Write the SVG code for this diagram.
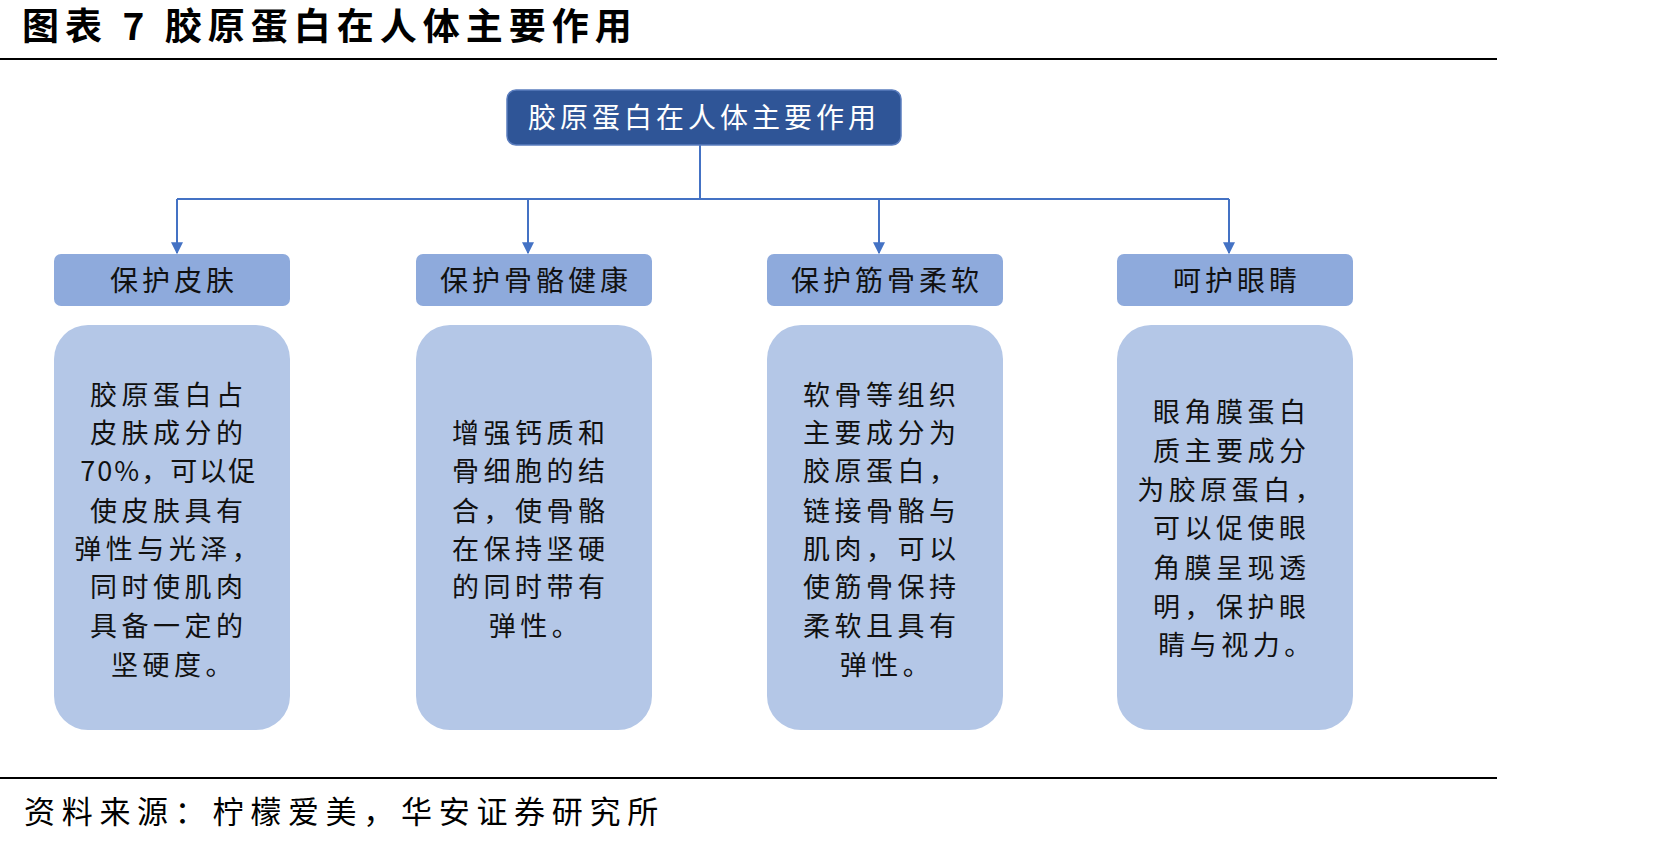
<svg xmlns="http://www.w3.org/2000/svg" width="1653" height="841" viewBox="0 0 1653 841">
<defs>
<style>
text{font-family:"Noto Sans CJK SC","Noto Sans",sans-serif;}
.title{font-size:37px;font-weight:bold;fill:#000;letter-spacing:6px;}
.src{font-size:31px;fill:#000;letter-spacing:6.7px;}
.rootbox{fill:#2F5597;stroke:#5B7DBE;stroke-width:1.5;}
.roottxt{font-size:28px;fill:#fff;letter-spacing:4px;text-anchor:middle;}
.hbox{fill:#8EAADC;}
.htxt{font-size:28px;fill:#111;letter-spacing:4px;text-anchor:middle;}
.bbox{fill:#B4C7E7;}
.btxt{font-size:27px;fill:#111;letter-spacing:4.5px;text-anchor:middle;}
.conn{stroke:#4472C4;stroke-width:2;fill:none;}
.rule{stroke:#000;stroke-width:2;}
</style>
<marker id="arr" viewBox="0 0 10 10" refX="9" refY="5" markerWidth="6" markerHeight="6" orient="auto">
<path d="M0,0 L10,5 L0,10 z" fill="#4472C4"/>
</marker>
</defs>
<rect width="1653" height="841" fill="#fff"/>
<text class="title" x="22" y="40">图表 7 胶原蛋白在人体主要作用</text>
<line class="rule" x1="0" y1="59" x2="1497" y2="59"/>
<line class="rule" x1="0" y1="778" x2="1497" y2="778"/>
<text class="src" x="24" y="823">资料来源：柠檬爱美，华安证券研究所</text>

<g id="connectors">
<path class="conn" d="M700,145 V199"/>
<path class="conn" d="M177,199 H1229"/>
<path class="conn" d="M177,199 V253" marker-end="url(#arr)"/>
<path class="conn" d="M528,199 V253" marker-end="url(#arr)"/>
<path class="conn" d="M879,199 V253" marker-end="url(#arr)"/>
<path class="conn" d="M1229,199 V253" marker-end="url(#arr)"/>
</g>

<g id="root">
<rect class="rootbox" x="507" y="90" width="394" height="55" rx="9"/>
<text class="roottxt" x="704" y="128">胶原蛋白在人体主要作用</text>
</g>

<g id="h1"><rect class="hbox" x="54" y="254" width="236" height="52" rx="7"/><text class="htxt" x="174" y="291">保护皮肤</text></g>
<g id="h2"><rect class="hbox" x="416" y="254" width="236" height="52" rx="7"/><text class="htxt" x="536" y="291">保护骨骼健康</text></g>
<g id="h3"><rect class="hbox" x="767" y="254" width="236" height="52" rx="7"/><text class="htxt" x="887" y="291">保护筋骨柔软</text></g>
<g id="h4"><rect class="hbox" x="1117" y="254" width="236" height="52" rx="7"/><text class="htxt" x="1237" y="291">呵护眼睛</text></g>

<g id="b1"><rect class="bbox" x="54" y="325" width="236" height="405" rx="34"/>
<text class="btxt">
<tspan x="174" y="405">胶原蛋白占</tspan>
<tspan x="174" y="443">皮肤成分的</tspan>
<tspan x="174" y="481" letter-spacing="2">70%，可以促</tspan>
<tspan x="174" y="521">使皮肤具有</tspan>
<tspan x="174" y="559">弹性与光泽，</tspan>
<tspan x="174" y="597">同时使肌肉</tspan>
<tspan x="174" y="636">具备一定的</tspan>
<tspan x="174" y="675">坚硬度。</tspan>
</text></g>

<g id="b2"><rect class="bbox" x="416" y="325" width="236" height="405" rx="34"/>
<text class="btxt">
<tspan x="536" y="443">增强钙质和</tspan>
<tspan x="536" y="481">骨细胞的结</tspan>
<tspan x="536" y="521">合，使骨骼</tspan>
<tspan x="536" y="559">在保持坚硬</tspan>
<tspan x="536" y="597">的同时带有</tspan>
<tspan x="536" y="636">弹性。</tspan>
</text></g>

<g id="b3"><rect class="bbox" x="767" y="325" width="236" height="405" rx="34"/>
<text class="btxt">
<tspan x="887" y="405">软骨等组织</tspan>
<tspan x="887" y="443">主要成分为</tspan>
<tspan x="887" y="481">胶原蛋白，</tspan>
<tspan x="887" y="521">链接骨骼与</tspan>
<tspan x="887" y="559">肌肉，可以</tspan>
<tspan x="887" y="597">使筋骨保持</tspan>
<tspan x="887" y="636">柔软且具有</tspan>
<tspan x="887" y="675">弹性。</tspan>
</text></g>

<g id="b4"><rect class="bbox" x="1117" y="325" width="236" height="405" rx="34"/>
<text class="btxt">
<tspan x="1237" y="422">眼角膜蛋白</tspan>
<tspan x="1237" y="461">质主要成分</tspan>
<tspan x="1237" y="500">为胶原蛋白，</tspan>
<tspan x="1237" y="538">可以促使眼</tspan>
<tspan x="1237" y="578">角膜呈现透</tspan>
<tspan x="1237" y="617">明，保护眼</tspan>
<tspan x="1237" y="655">睛与视力。</tspan>
</text></g>
</svg>
